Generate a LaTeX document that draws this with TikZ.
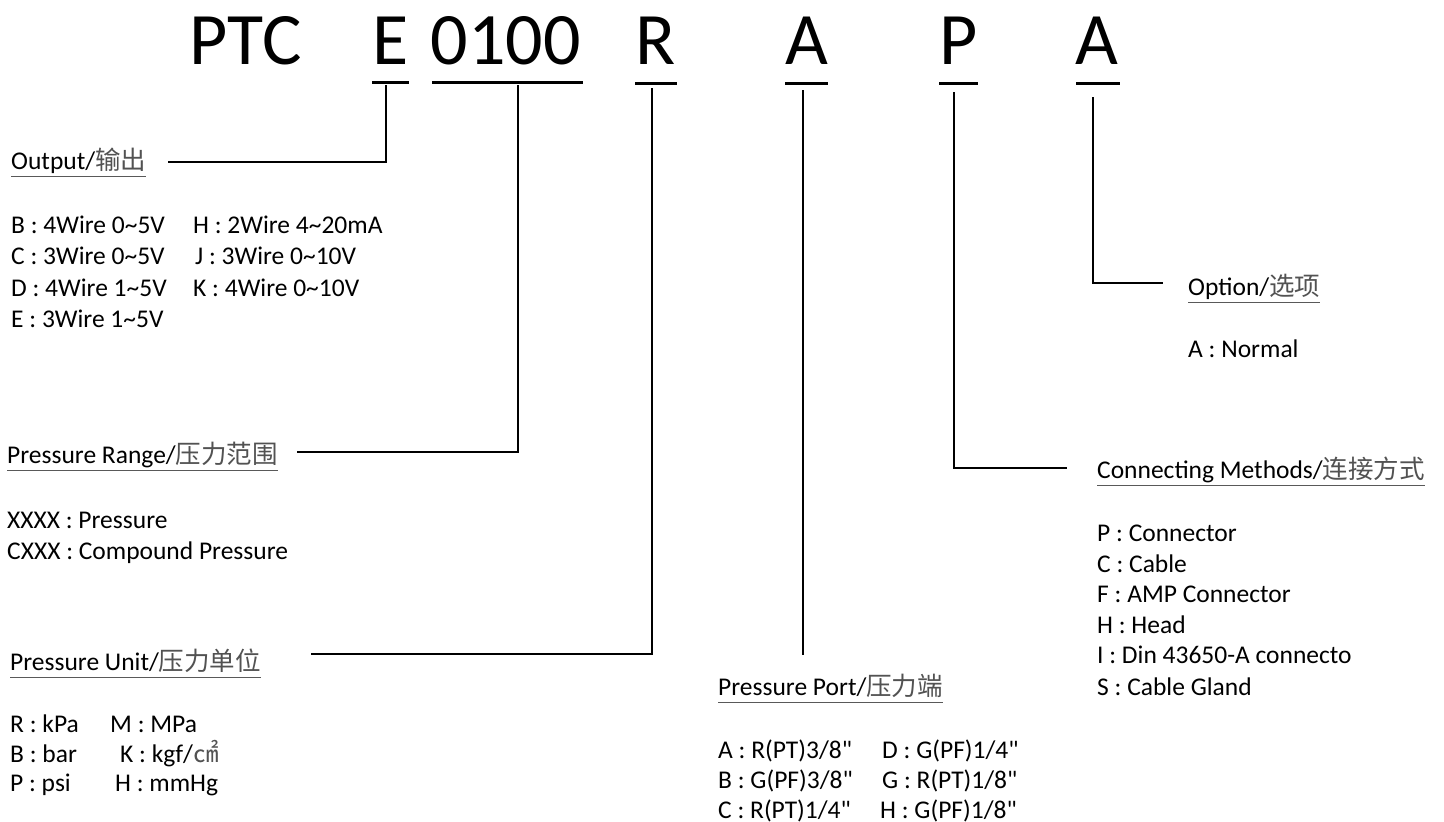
\documentclass[tikz,border=0pt]{standalone}
\usepackage{fontspec}
\setmainfont{Carlito}[Ligatures=TeXOff]
\newfontfamily\cjkfont{Noto Sans CJK SC}
\newcommand{\zhtxt}[1]{{\cjkfont\color{black!68}#1}}
\newcommand{\tld}{\textasciitilde}
\begin{document}
\begin{tikzpicture}[x=1pt,y=-1pt,
  ttl/.style={anchor=base,inner sep=0pt,font=\fontsize{74pt}{74pt}\selectfont},
  hd/.style={anchor=base west,inner sep=0pt,font=\fontsize{25.5pt}{30pt}\selectfont},
  itm/.style={anchor=base west,inner sep=0pt,font=\fontsize{25.5pt}{30pt}\selectfont},
  bar/.style={line width=3pt},
  conn/.style={line width=1.6pt},
  ul/.style={line width=1pt,black!65}]
\fill[white] (0,0) rectangle (1444,822);
\useasboundingbox (0,0) rectangle (1444,822);

% title
\node[ttl] (tPTC) at (245.5,64) {PTC};
\node[ttl] (tE) at (390.5,64) {E};
\node[ttl] (tRange) at (505.5,64) {0100};
\node[ttl] (tR) at (656,64) {R};
\node[ttl] (tA) at (807,64) {A};
\node[ttl] (tP) at (958.5,64) {P};
\node[ttl] (tO) at (1097,64) {A};

% underline bars
\draw[bar] (372,82) -- (409,82);
\draw[bar] (432,82) -- (583,82);
\draw[bar] (635,83) -- (677,83);
\draw[bar] (785,83) -- (828,83);
\draw[bar] (939,83) -- (978,83);
\draw[bar] (1076,83) -- (1120,83);

% headings
\node[hd] (hOut) at (11,169) {Output/\zhtxt{输出}};
\node[hd] (hRange) at (7,463) {Pressure Range/\zhtxt{压力范围}};
\node[hd] (hUnit) at (10,670) {Pressure Unit/\zhtxt{压力单位}};
\node[hd] (hPort) at (718,695) {Pressure Port/\zhtxt{压力端}};
\node[hd] (hConn) at (1097,478) {Connecting Methods/\zhtxt{连接方式}};
\node[hd] (hOpt) at (1188,295) {Option/\zhtxt{选项}};

\foreach \n in {hOut,hRange,hUnit,hPort,hConn,hOpt}
  \draw[ul] ([yshift=-7pt]\n.base west) -- ([yshift=-7pt]\n.base east);

% connectors
\coordinate (cE) at (386,85);   \coordinate (eOut) at (168,162);
\coordinate (cR0) at (518,85);  \coordinate (eRange) at (297,452);
\coordinate (cR) at (652,88);   \coordinate (eUnit) at (311,654);
\coordinate (cA) at (803,90);   \coordinate (ePort) at (803,655);
\coordinate (cP) at (954,92);   \coordinate (eConn) at (1067,468);
\coordinate (cO) at (1093,97);  \coordinate (eOpt) at (1163,283);
\draw[conn] (cE) |- (eOut);
\draw[conn] (cR0) |- (eRange);
\draw[conn] (cR) |- (eUnit);
\draw[conn] (cA) -- (ePort);
\draw[conn] (cP) |- (eConn);
\draw[conn] (cO) |- (eOpt);

% Output items
\node[itm] (o1) at (11,233) {B : 4Wire 0\tld5V};
\node[itm] (o2) at (11,264) {C : 3Wire 0\tld5V};
\node[itm] (o3) at (11,296) {D : 4Wire 1\tld5V};
\node[itm] (o4) at (11,327) {E : 3Wire 1\tld5V};
\node[itm] (o5) at (193,233) {H : 2Wire 4\tld20mA};
\node[itm] (o6) at (195,264) {J : 3Wire 0\tld10V};
\node[itm] (o7) at (193,296) {K : 4Wire 0\tld10V};

% Range items
\node[itm] (r1) at (7,528) {XXXX : Pressure};
\node[itm] (r2) at (7,559) {CXXX : Compound Pressure};

% Unit items
\node[itm] (u1) at (10,732) {R : kPa};
\node[itm] (u2) at (10,762) {B : bar};
\node[itm] (u3) at (10,791) {P : psi};
\node[itm] (u4) at (110,732) {M : MPa};
\node[itm] (u5) at (120,762) {K : kgf/\zhtxt{㎠}};
\node[itm] (u6) at (115,791) {H : mmHg};

% Port items
\node[itm] (p1) at (718,758) {A : R(PT)3/8"};
\node[itm] (p2) at (718,788) {B : G(PF)3/8"};
\node[itm] (p3) at (718,818) {C : R(PT)1/4"};
\node[itm] (p4) at (882,758) {D : G(PF)1/4"};
\node[itm] (p5) at (882,788) {G : R(PT)1/8"};
\node[itm] (p6) at (880,818) {H : G(PF)1/8"};

% Connecting items
\node[itm] (m1) at (1097,541) {P : Connector};
\node[itm] (m2) at (1097,572) {C : Cable};
\node[itm] (m3) at (1097,602) {F : AMP Connector};
\node[itm] (m4) at (1097,633) {H : Head};
\node[itm] (m5) at (1097,663) {I : Din 43650-A connecto};
\node[itm] (m6) at (1097,695) {S : Cable Gland};

% Option items
\node[itm] (a1) at (1188,357) {A : Normal};
\end{tikzpicture}
\end{document}
